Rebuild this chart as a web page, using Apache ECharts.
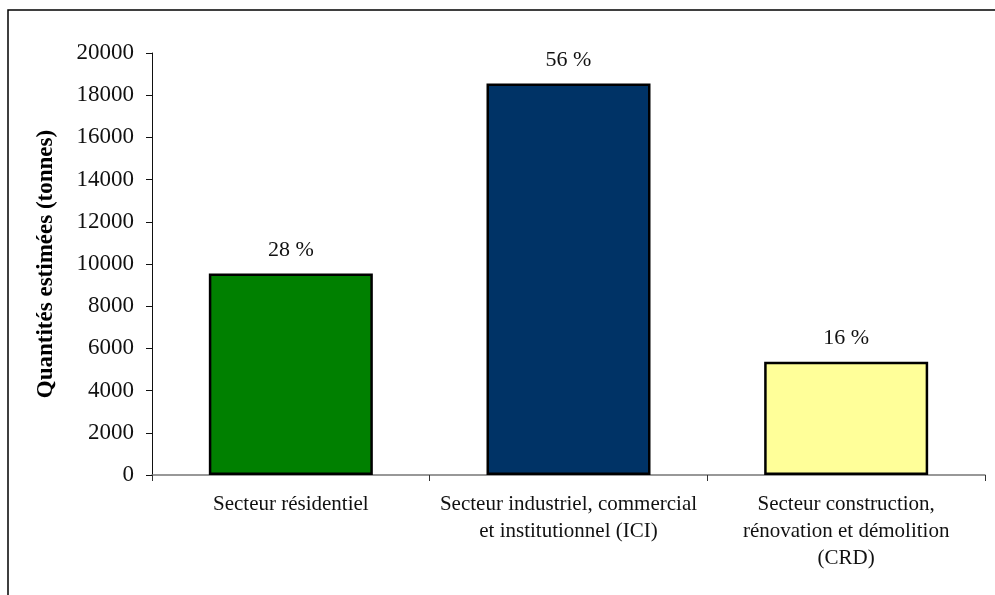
<!DOCTYPE html>
<html>
<head>
<meta charset="utf-8">
<script src="https://cdn.jsdelivr.net/npm/echarts@6/dist/echarts.min.js"></script>
<style>
  html, body { margin: 0; padding: 0; background: #fff; }
  #chart { width: 995px; height: 595px; }
</style>
</head>
<body>
<div id="chart"></div>
<script>
// Estimated quantities (tonnes) by sector
const categories = [
  'Secteur résidentiel',
  'Secteur industriel, commercial\net institutionnel (ICI)',
  'Secteur construction,\nrénovation et démolition\n(CRD)'
];
const quantities = [9550, 18550, 5370];
const shares = ['28 %', '56 %', '16 %'];
const barColors = ['#008000', '#003366', '#ffff99'];

const FONT = '"Liberation Serif", "Times New Roman", serif';

const chart = echarts.init(document.getElementById('chart'), null, { renderer: 'canvas' });

chart.setOption({
  backgroundColor: '#ffffff',
  animation: false,
  graphic: [{
    type: 'rect',
    shape: { x: 8, y: 10, width: 1100, height: 700 },
    style: { fill: 'none', stroke: '#000', lineWidth: 1.5 },
    silent: true,
    z: 0
  }],
  grid: { left: 152, right: 10, top: 53, bottom: 120, containLabel: false },
  xAxis: {
    type: 'category',
    data: categories,
    boundaryGap: true,
    axisLine: { lineStyle: { color: '#777', width: 1.5 } },
    axisTick: { show: true, length: 6, alignWithLabel: false, lineStyle: { color: '#333' } },
    axisLabel: {
      interval: 0,
      margin: 16,
      fontFamily: FONT,
      fontSize: 21,
      lineHeight: 27,
      color: '#111',
      align: 'center'
    }
  },
  yAxis: {
    type: 'value',
    min: 0,
    max: 20000,
    interval: 2000,
    name: 'Quantités estimées (tonnes)',
    nameLocation: 'middle',
    nameGap: 94,
    nameRotate: 90,
    nameTextStyle: { fontFamily: FONT, fontSize: 23, fontWeight: 'bold', color: '#000' },
    axisLine: { show: true, lineStyle: { color: '#111', width: 1 } },
    axisTick: { show: true, length: 6, lineStyle: { color: '#111' } },
    splitLine: { show: false },
    axisLabel: {
      margin: 18,
      fontFamily: FONT,
      fontSize: 23,
      color: '#111',
      formatter: v => String(v)
    }
  },
  series: [{
    type: 'bar',
    barWidth: 164,
    data: quantities.map((v, i) => ({
      value: v,
      itemStyle: { color: barColors[i], borderColor: '#000', borderWidth: 2.5 }
    })),
    label: {
      show: true,
      position: 'top',
      distance: 12,
      fontFamily: FONT,
      fontSize: 22,
      color: '#111',
      formatter: p => shares[p.dataIndex]
    }
  }]
});
</script>
</body>
</html>
